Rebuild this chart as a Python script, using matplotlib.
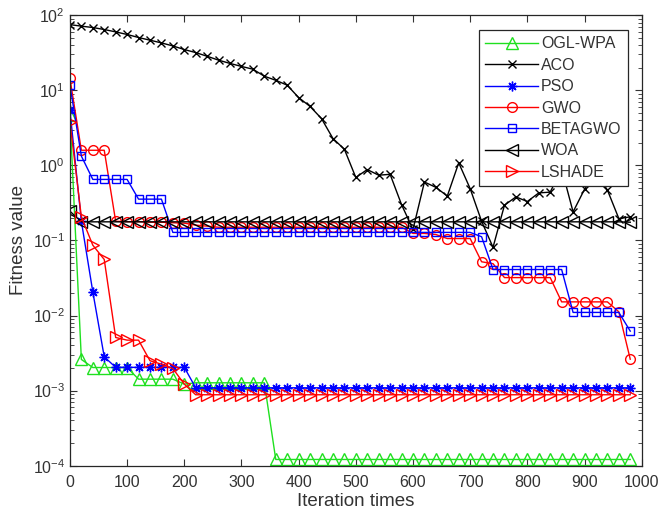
import matplotlib
matplotlib.use('Agg')
import matplotlib.pyplot as plt
import numpy as np

plt.rcParams['font.family'] = ['Liberation Sans', 'DejaVu Sans']
plt.rcParams['mathtext.fontset'] = 'custom'
plt.rcParams['mathtext.rm'] = 'Liberation Sans'
plt.rcParams['mathtext.default'] = 'regular'

# iterations where markers sit (every 20)
iters = list(range(0, 1000, 20))

ogl_wpa = [4.7, 0.0026, 0.00203, 0.00203, 0.00203, 0.00203, 0.00142, 0.00142, 0.00142, 0.00142,
           0.00122, 0.00127, 0.00127, 0.00127, 0.00127, 0.00127, 0.00127, 0.00127, 0.000121, 0.000121,
           0.000121, 0.000121, 0.000121, 0.000121, 0.000121, 0.000121, 0.000121, 0.000121, 0.000121, 0.000121,
           0.000121, 0.000121, 0.000121, 0.000121, 0.000121, 0.000121, 0.000121, 0.000121, 0.000121, 0.000121,
           0.000121, 0.000121, 0.000121, 0.000121, 0.000121, 0.000121, 0.000121, 0.000121, 0.000121, 0.000121]

aco = [75, 71.5, 68.6, 64.5, 60, 55.4, 50.5, 46.5, 42.8, 39,
       34.9, 31.8, 28.4, 25.2, 22.8, 20.8, 19.1, 15.4, 13.6, 11.7,
       8.0, 6.1, 4.2, 2.28, 1.64, 0.69, 0.88, 0.74, 0.76, 0.30,
       0.14, 0.60, 0.51, 0.39, 1.08, 0.49, 0.18, 0.081, 0.295, 0.38,
       0.33, 0.43, 0.44, 0.9, 0.24, 0.48, 0.8, 0.47, 0.196, 0.206]

pso = [5.4, 0.18, 0.0207, 0.00282, 0.00204, 0.00204, 0.00204, 0.00204, 0.00204, 0.00204,
       0.00204, 0.00109, 0.00109, 0.00109, 0.00109, 0.00109, 0.00109, 0.00109, 0.00109, 0.00109,
       0.00109, 0.00109, 0.00109, 0.00109, 0.00109, 0.00109, 0.00109, 0.00109, 0.00109, 0.00109,
       0.00109, 0.00109, 0.00109, 0.00109, 0.00109, 0.00109, 0.00109, 0.00109, 0.00109, 0.00109,
       0.00109, 0.00109, 0.00109, 0.00109, 0.00109, 0.00109, 0.00109, 0.00109, 0.00109, 0.00109]

gwo = [14.4, 1.59, 1.59, 1.59, 0.18, 0.178, 0.178, 0.175, 0.175, 0.172,
       0.17, 0.16, 0.155, 0.15, 0.15, 0.15, 0.15, 0.15, 0.15, 0.15,
       0.15, 0.15, 0.15, 0.15, 0.15, 0.15, 0.15, 0.15, 0.15, 0.15,
       0.124, 0.124, 0.12, 0.106, 0.106, 0.106, 0.052, 0.049, 0.032, 0.032,
       0.032, 0.032, 0.032, 0.0152, 0.0152, 0.0152, 0.0152, 0.0152, 0.0112, 0.00262]

betagwo = [11.7, 1.33, 0.65, 0.65, 0.65, 0.65, 0.355, 0.355, 0.355, 0.128,
           0.128, 0.128, 0.128, 0.128, 0.128, 0.128, 0.128, 0.128, 0.128, 0.128,
           0.128, 0.128, 0.128, 0.128, 0.128, 0.128, 0.128, 0.128, 0.128, 0.128,
           0.128, 0.128, 0.128, 0.128, 0.128, 0.128, 0.112, 0.041, 0.041, 0.041,
           0.041, 0.041, 0.041, 0.041, 0.011, 0.011, 0.011, 0.011, 0.011, 0.0062]

woa = [0.245, 0.177, 0.177, 0.177, 0.177, 0.177, 0.177, 0.177, 0.177, 0.177,
       0.177, 0.177, 0.177, 0.177, 0.177, 0.177, 0.177, 0.177, 0.177, 0.177,
       0.177, 0.177, 0.177, 0.177, 0.177, 0.177, 0.177, 0.177, 0.177, 0.177,
       0.177, 0.177, 0.177, 0.177, 0.177, 0.177, 0.177, 0.177, 0.177, 0.177,
       0.177, 0.177, 0.177, 0.177, 0.177, 0.177, 0.177, 0.177, 0.177, 0.175]

lshade = [3.8, 0.206, 0.0865, 0.0558, 0.0051, 0.0047, 0.0047, 0.0025, 0.00225, 0.00197,
          0.00122, 0.00088, 0.00088, 0.00088, 0.00088, 0.00088, 0.00088, 0.00088, 0.00088, 0.00088,
          0.00088, 0.00088, 0.00088, 0.00088, 0.00088, 0.00088, 0.00088, 0.00088, 0.00088, 0.00088,
          0.00088, 0.00088, 0.00088, 0.00088, 0.00088, 0.00088, 0.00088, 0.00088, 0.00088, 0.00088,
          0.00088, 0.00088, 0.00088, 0.00088, 0.00088, 0.00088, 0.00088, 0.00088, 0.00088, 0.00088]

series = [
    ('OGL-WPA', ogl_wpa, '#1fe01f', '^', 8),
    ('ACO', aco, 'black', 'x', 6),
    ('PSO', pso, 'blue', (8, 2, 0), 7),   # matlab style asterisk
    ('GWO', gwo, 'red', 'o', 7),
    ('BETAGWO', betagwo, 'blue', 's', 6),
    ('WOA', woa, 'black', '<', 8),
    ('LSHADE', lshade, 'red', '>', 8),
]

text_col = '#333333'

fig = plt.figure(figsize=(6.66, 5.25), dpi=100)
ax = fig.add_axes([0.105, 0.113, 0.8585, 0.858])

for name, vals, col, mk, ms in series:
    ax.plot(iters, vals, color=col, marker=mk, markersize=ms, markerfacecolor='none',
            markeredgecolor=col, markeredgewidth=1.0, linewidth=1.0, label=name)

ax.set_yscale('log')
ax.set_xlim(0, 1000)
ax.set_ylim(1e-4, 1e2)
ax.set_xticks(range(0, 1001, 100))
ax.set_yticks([1e-4, 1e-3, 1e-2, 1e-1, 1e0, 1e1, 1e2])
ax.set_yticklabels([r'$10^{-4}$', r'$10^{-3}$', r'$10^{-2}$', r'$10^{-1}$',
                    r'$10^{0}$', r'$10^{1}$', r'$10^{2}$'])

ax.tick_params(which='both', direction='in', top=True, right=True,
               colors=text_col, labelsize=11.5)
ax.tick_params(which='major', length=5, width=0.8)
ax.tick_params(which='minor', length=3, width=0.6)
ax.tick_params(axis='x', pad=7)
for sp in ax.spines.values():
    sp.set_color('#262626')
    sp.set_linewidth(0.9)

ax.set_xlabel('Iteration times', fontsize=13.5, color=text_col, labelpad=2)
ax.set_ylabel('Fitness value', fontsize=13.5, color=text_col, labelpad=4)

leg = ax.legend(loc='upper right', bbox_to_anchor=(0.976, 0.967), borderaxespad=0,
                fontsize=11.5, fancybox=False, edgecolor='#262626', framealpha=1,
                handlelength=3.3, labelspacing=0.4, handletextpad=0.2, borderpad=0.4)
leg.get_frame().set_linewidth(0.9)
for t in leg.get_texts():
    t.set_color(text_col)

plt.savefig('out.png', dpi=100)
